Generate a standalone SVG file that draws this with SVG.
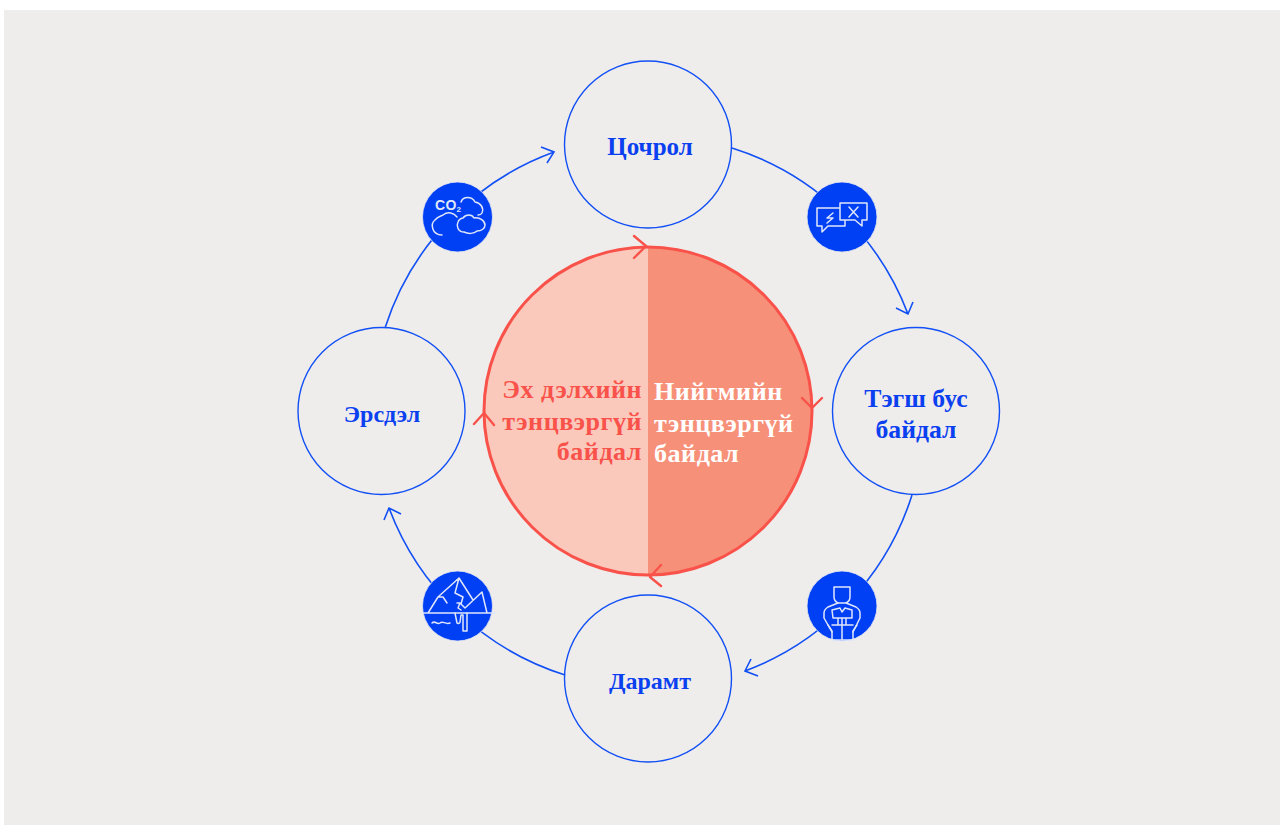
<svg xmlns="http://www.w3.org/2000/svg" width="1280" height="825" viewBox="0 0 1280 825">
<style>
.node{fill:none;stroke:#1250f5;stroke-width:1.4}
.arc{fill:none;stroke:#1250f5;stroke-width:1.6}
.red{fill:none;stroke:#f9524a;stroke-width:2.4;stroke-linecap:round;stroke-linejoin:round}
.badge{fill:#0040f5;stroke:#e4e6f0;stroke-width:.8}
.ic{fill:none;stroke:#dfe6fb;stroke-width:1.5;stroke-linejoin:round;stroke-linecap:round}
text{font-family:"Liberation Serif","Times New Roman",serif;font-weight:700}
.b{fill:#0a40f0;font-size:24px;text-anchor:middle}
.c{font-size:26px;letter-spacing:.55px}
</style>
<rect width="1280" height="825" fill="#fff"/>
<rect x="4" y="10" width="1276" height="815" fill="#eeedeb"/>
<g id="center">
<path d="M648 247A164 164 0 0 0 648 575Z" fill="#fbc8bc"/>
<path d="M648 247A164 164 0 0 1 648 575Z" fill="#f79078"/>
<circle cx="648" cy="411" r="164" fill="none" stroke="#f9524a" stroke-width="3"/>
<path class="red" d="M634 236L646 246L634 258M802 398L812 408L822 398M661 565L650 577L661 586M474 424L484 413L494 425"/>
<text class="c" fill="#f9524a" text-anchor="end"><tspan x="642" y="398">Эх дэлхийн</tspan><tspan x="642" y="430">тэнцвэргүй</tspan><tspan x="642" y="460">байдал</tspan></text>
<text class="c" fill="#fff"><tspan x="654" y="400">Нийгмийн</tspan><tspan x="654" y="432">тэнцвэргүй</tspan><tspan x="654" y="462">байдал</tspan></text>
</g>
<g id="connectors">
<path class="arc" d="M732 148A277 277 0 0 1 908 314M896 308L908 314L913 302"/>
<path class="arc" d="M912 495A277 277 0 0 1 745 671M751 659L745 671L758 676"/>
<path class="arc" d="M565 675A277 277 0 0 1 389 508M384 520L389 508L401 514"/>
<path class="arc" d="M385 328A277 277 0 0 1 554 152M541 147L554 152L547 163"/>
</g>
<g id="n-top"><circle class="node" cx="648" cy="144.500" r="83.500"/><text class="b" x="650" y="155" font-size="25" style="font-size:25px">Цочрол</text></g>
<g id="n-right"><circle class="node" cx="916" cy="411" r="83.500"/><text class="b" style="font-size:25.700px"><tspan x="916" y="407">Тэгш бус</tspan><tspan x="916" y="438">байдал</tspan></text></g>
<g id="n-bottom"><circle class="node" cx="648" cy="678.500" r="83.500"/><text class="b" x="650" y="689">Дарамт</text></g>
<g id="n-left"><circle class="node" cx="381.500" cy="411" r="83.500"/><text class="b" x="382" y="422">Эрсдэл</text></g>
<g id="i-co2"><circle class="badge" cx="457.500" cy="217" r="35"/>
<text x="435" y="210" font-size="14" fill="#dfe6fb" style="font-family:'Liberation Sans',sans-serif;font-weight:700;letter-spacing:.3px">CO<tspan font-size="8" dy="2">2</tspan></text>
<path class="ic" d="M461 202C463 196 472 196 475 202C481 203 484 208 482 213C481 215 480 215 478 215M442 235C432 235 430 224 435 220C438 216 442 216 443 215C448 211 454 213 457 217"/>
<path class="ic" d="M464 232C458 232 456 226 458 222C459 219 462 218 463 218C466 214 472 214 474 218C480 217 485 221 485 225C485 229 481 231 477 231C474 234 468 234 464 232Z"/></g>
<g id="i-chat"><circle class="badge" cx="842" cy="217" r="35"/>
<path class="ic" d="M840 208H817V226H822V232L828 226H845V221M840 203H867V220H862V226L855 220H840Z"/>
<path class="ic" d="M849 207L858 217M858 207L849 217M833 213L827 218H833L827 223"/></g>
<g id="i-person"><circle class="badge" cx="842" cy="606" r="35"/>
<path class="ic" d="M834 587H850V597C850 600 848 602 846 603H838C836 602 834 600 834 597Z"/>
<path class="ic" d="M838 603L828 607C825 609 824 611 824 613V618L832 632M846 603L856 607C859 609 860 611 860 613V618L853 632"/>
<path class="ic" d="M833 618L832 610L840 608L842 612L845 608L852 610L852 618H833ZM838 618V625M842 618V640M846 618V625M828 625L832 631V640M857 625L853 631V640M832 640H853M832 625H853"/></g>
<g id="i-ice"><circle class="badge" cx="457.500" cy="606" r="35"/>
<path class="ic" d="M423 613H495M428 613L438 597H443L447 603M438 597L459 578L473 600M459 578L455 593L463 597L461 604L465 608L482 592L487 613M457 603H460L458 608L461 610"/>
<path class="ic" d="M455 613L457 623C458 624 460 623 460 622L461 615H463V631H467V613M432 623C435 620 437 625 440 623C443 620 445 625 450 623"/></g>
</svg>
